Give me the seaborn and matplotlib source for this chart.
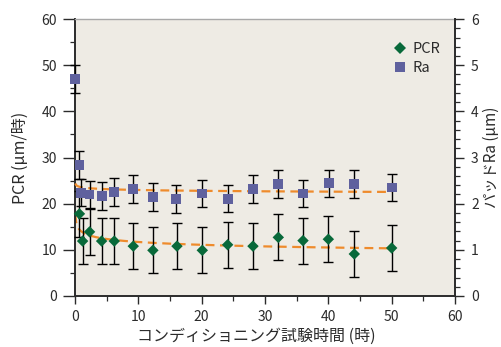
import numpy as np
import matplotlib
matplotlib.use("Agg")
import matplotlib.pyplot as plt
import seaborn as sns
from matplotlib.lines import Line2D
from matplotlib.ticker import MultipleLocator

# Conditioning test: polishing removal rate (PCR) and pad roughness (Ra)
hours_pcr = [0.7, 1.2, 2.3, 4.2, 6.2, 9.2, 12.3, 16.1, 20.1, 24.1, 28.1, 32.1, 36.0, 40.0, 44.1, 50.0]
pcr = [17.8, 11.9, 13.9, 11.9, 11.9, 10.8, 9.9, 10.8, 9.9, 11.1, 10.8, 12.7, 12.0, 12.3, 9.1, 10.4]
pcr_err = [5.0, 5.0, 5.0, 5.0, 5.0, 5.0, 5.0, 5.0, 5.0, 5.0, 5.0, 5.0, 5.0, 5.0, 5.0, 5.0]

hours_ra = [0.0, 0.7, 1.0, 2.3, 4.2, 6.2, 9.2, 12.3, 16.0, 20.0, 24.2, 28.1, 32.1, 36.0, 40.1, 44.1, 50.0]
ra = [4.70, 2.84, 2.24, 2.20, 2.17, 2.26, 2.32, 2.15, 2.10, 2.22, 2.11, 2.32, 2.42, 2.22, 2.44, 2.42, 2.35]
ra_err = [0.3, 0.3, 0.3, 0.3, 0.3, 0.3, 0.3, 0.3, 0.3, 0.3, 0.3, 0.3, 0.3, 0.3, 0.3, 0.3, 0.3]

x_ticks = [0, 10, 20, 30, 40, 50, 60]
pcr_ticks = [0, 10, 20, 30, 40, 50, 60]
ra_ticks = [0, 1, 2, 3, 4, 5, 6]

GREEN = "#08693A"
PURPLE = "#5F619E"
ORANGE = "#EE8B2C"
BG = "#EEEBE4"
INK = "#2B2B2B"

sns.set_style("ticks")
plt.rcParams["font.family"] = ["Noto Sans CJK JP", "DejaVu Sans"]


def power_fit(x, y):
    x = np.asarray(x, float)
    y = np.asarray(y, float)
    keep = x > 0
    b, ln_a = np.polyfit(np.log(x[keep]), np.log(y[keep]), 1)
    return np.exp(ln_a), b


fig = plt.figure(figsize=(5.01, 3.47), dpi=100)
fig.patch.set_facecolor("white")
ax = fig.add_axes([0.1497, 0.147, 0.7585, 0.798])
ax.set_facecolor(BG)
ax2 = ax.twinx()

grid = np.linspace(0.05, 50, 400)
dash = (0, (4.0, 2.5))

# PCR on the left axis
a, b = power_fit(hours_pcr, pcr)
sns.lineplot(x=grid, y=a * grid ** b, ax=ax, color=ORANGE, lw=1.6,
             linestyle=dash, zorder=2)
ax.errorbar(hours_pcr, pcr, yerr=pcr_err, fmt="none", ecolor="black",
            elinewidth=1.0, capsize=3.6, capthick=1.0, zorder=3)
sns.scatterplot(x=hours_pcr, y=pcr, ax=ax, marker="D", s=34, color=GREEN,
                edgecolor="none", zorder=4)

# Ra on the right axis
a2, b2 = power_fit(hours_ra, ra)
sns.lineplot(x=grid, y=a2 * grid ** b2, ax=ax2, color=ORANGE, lw=1.6,
             linestyle=dash, zorder=2)
ax2.errorbar(hours_ra, ra, yerr=ra_err, fmt="none", ecolor="black",
             elinewidth=1.0, capsize=3.6, capthick=1.0, zorder=3)
sns.scatterplot(x=hours_ra, y=ra, ax=ax2, marker="s", s=50, color=PURPLE,
                edgecolor="none", zorder=4)

# markers sitting on the y axis are drawn in full
for axis in (ax, ax2):
    for coll in axis.collections:
        coll.set_clip_on(False)
    for ln in axis.lines:
        ln.set_clip_on(False)

ax.set_xlim(0, 60)
ax.set_ylim(0, 60)
ax2.set_ylim(0, 6)
ax.set_xticks(x_ticks)
ax.set_yticks(pcr_ticks)
ax2.set_yticks(ra_ticks)
ax.xaxis.set_minor_locator(MultipleLocator(5))
ax.yaxis.set_minor_locator(MultipleLocator(5))
ax2.yaxis.set_minor_locator(MultipleLocator(0.2))

ax.tick_params(axis="y", which="major", direction="out", length=8.4, width=1.0,
               color=INK, labelsize=10, labelcolor=INK, pad=4.5)
ax.tick_params(axis="y", which="minor", direction="out", length=3.6, width=0.9,
               color=INK)
ax.tick_params(axis="x", which="major", direction="out", length=5.8, width=1.0,
               color=INK, labelsize=10, labelcolor=INK, pad=4.0)
ax.tick_params(axis="x", which="minor", direction="out", length=3.6, width=0.9,
               color=INK)
ax2.tick_params(axis="y", which="major", direction="out", length=6.5, width=1.0,
                color=INK, labelsize=10, labelcolor=INK, pad=5.0)
ax2.tick_params(axis="y", which="minor", direction="out", length=3.3, width=0.9,
                color=INK)
ax.tick_params(top=False, right=False, which="both")
ax2.tick_params(left=False, which="both")

for side in ("left", "bottom"):
    ax.spines[side].set_color(INK)
    ax.spines[side].set_linewidth(1.4)
ax.spines["top"].set_color("#A8A8A8")
ax.spines["top"].set_linewidth(1.0)
ax.spines["right"].set_visible(False)
ax2.spines["right"].set_color(INK)
ax2.spines["right"].set_linewidth(1.4)
for side in ("left", "top", "bottom"):
    ax2.spines[side].set_visible(False)

ax.set_xlabel("コンディショニング試験時間 (時)", fontsize=11.5, color=INK, labelpad=3)
ax.xaxis.label.set_x(0.476)
ax.set_ylabel("PCR (µm/時)", fontsize=11.5, color=INK, labelpad=9)
ax2.set_ylabel("パッドRa (µm)", fontsize=11.0, color=INK, labelpad=3)

handles = [
    Line2D([], [], marker="D", linestyle="none", color=GREEN, markersize=6.0,
           markeredgewidth=0),
    Line2D([], [], marker="s", linestyle="none", color=PURPLE, markersize=7.0,
           markeredgewidth=0),
]
ax2.legend(handles, ["PCR", "Ra"], loc="upper right", bbox_to_anchor=(0.997, 0.965),
           frameon=False, fontsize=10.5, handlelength=1.0, handletextpad=0.4,
           labelspacing=0.35, labelcolor=INK)

fig.savefig("out.png", dpi=100)
